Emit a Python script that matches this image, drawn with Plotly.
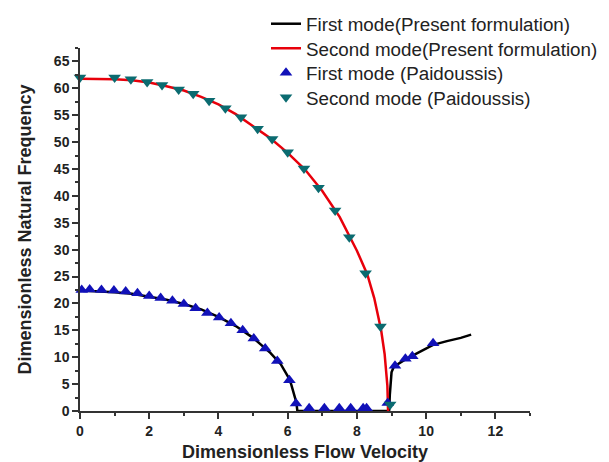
import plotly.graph_objects as go

# First mode, present formulation (black line)
mode1_x = [0, 0.5, 1.0, 1.5, 2.0, 2.5, 3.0, 3.5, 4.0, 4.5, 5.0, 5.5, 5.8, 6.0, 6.1, 6.2, 6.25, 6.28,
           7.0, 8.0, 8.93, 8.95, 8.97, 9.0, 9.05, 9.1, 9.4, 9.8, 10.2, 10.6, 11.0, 11.3]
mode1_y = [22.4, 22.3, 22.1, 21.8, 21.3, 20.7, 19.9, 18.9, 17.5, 15.8, 13.6, 10.8, 8.7, 6.5, 5.0, 3.0, 1.6, 0,
           0, 0, 0, 3.0, 5.8, 7.2, 8.0, 8.4, 9.6, 11.0, 12.3, 13.0, 13.6, 14.2]

# Second mode, present formulation (red line)
mode2_x = [0, 0.5, 1.0, 1.5, 2.0, 2.5, 3.0, 3.5, 4.0, 4.5, 5.0, 5.5, 6.0, 6.5, 7.0, 7.5, 8.0, 8.3, 8.5,
           8.7, 8.8, 8.85, 8.88, 8.9]
mode2_y = [61.8, 61.8, 61.7, 61.5, 61.1, 60.4, 59.6, 58.4, 57.0, 55.2, 53.0, 50.7, 48.0, 44.9, 40.9, 36.1,
           29.8, 25.4, 21.0, 15.0, 10.6, 7.5, 4.7, 0]

# First mode (Paidoussis) markers
p1_x = [0.05, 0.28, 0.62, 0.98, 1.32, 1.66, 2.0, 2.33, 2.67, 3.0, 3.34, 3.68, 4.02, 4.36, 4.7, 5.02, 5.35,
        5.7, 6.05, 6.24, 6.62, 7.06, 7.49, 7.82, 8.18, 8.28, 8.89, 9.1, 9.4, 9.6, 10.2]
p1_y = [22.5, 22.6, 22.5, 22.4, 22.2, 21.9, 21.4, 21.0, 20.5, 19.9, 19.1, 18.2, 17.4, 16.3, 15.0, 13.5, 11.6,
        9.3, 5.7, 1.4, 0.5, 0.5, 0.5, 0.5, 0.5, 0.5, 1.5, 8.4, 9.7, 10.2, 12.6]

# Second mode (Paidoussis) markers
p2_x = [0, 1.0, 1.47, 1.94, 2.37, 2.85, 3.27, 3.73, 4.2, 4.65, 5.13, 5.55, 6.0, 6.47, 6.89, 7.37, 7.78,
        8.25, 8.68, 8.96]
p2_y = [62.0, 62.0, 61.7, 61.2, 60.6, 59.8, 59.0, 57.7, 56.3, 54.6, 52.5, 50.6, 48.1, 45.1, 41.5, 37.3,
        32.3, 25.6, 15.7, 1.2]

x_ticks = [0, 2, 4, 6, 8, 10, 12]
y_ticks = [0, 5, 10, 15, 20, 25, 30, 35, 40, 45, 50, 55, 60, 65]

FONT = "Liberation Sans, Arial, sans-serif"
W, H = 609, 462

fig = go.Figure()
fig.add_trace(go.Scatter(x=mode1_x, y=mode1_y, mode="lines", name="First mode(Present formulation)",
                         line=dict(color="black", width=2.5), cliponaxis=False, legend="legend"))
fig.add_trace(go.Scatter(x=mode2_x, y=mode2_y, mode="lines", name="Second mode(Present formulation)",
                         line=dict(color="#e8000b", width=2.5), cliponaxis=False, legend="legend2"))
fig.add_trace(go.Scatter(x=p1_x, y=p1_y, mode="markers", name="First mode (Paidoussis)",
                         marker=dict(symbol="triangle-up", size=11, color="#1111b8"), cliponaxis=False,
                         legend="legend3"))
fig.add_trace(go.Scatter(x=p2_x, y=p2_y, mode="markers", name="Second mode (Paidoussis)",
                         marker=dict(symbol="triangle-down", size=11, color="#0b6b70"), cliponaxis=False,
                         legend="legend4"))

axis_common = dict(
    showline=True, linewidth=1.5, linecolor="#333333", showgrid=False, zeroline=False,
    ticks="outside", ticklen=6, tickwidth=1.5, tickcolor="#333333", automargin=False,
    tickfont=dict(family=FONT, size=14, color="#222222", weight="bold"),
)

def leg(row_center_px):
    return dict(x=258 / W, y=1 - row_center_px / H, xanchor="left", yanchor="middle",
                bgcolor="rgba(0,0,0,0)", borderwidth=0,
                font=dict(family=FONT, size=18.8, color="#222222"))

fig.update_layout(
    width=W, height=H, autosize=False,
    margin=dict(l=0, r=0, t=0, b=0, autoexpand=False),
    plot_bgcolor="white", paper_bgcolor="white",
    font=dict(family=FONT, color="#222222"),
    showlegend=True,
    legend=leg(16), legend2=leg(40.5), legend3=leg(65), legend4=leg(89.5),
    xaxis=dict(domain=[72 / W, 522 / W], range=[0, 13], tickvals=x_ticks,
               ticktext=[str(v) for v in x_ticks],
               minor=dict(dtick=1, tick0=0, ticks="outside", ticklen=3, tickwidth=1.5, tickcolor="#333333"),
               title=dict(text="Dimensionless Flow Velocity", standoff=8,
                          font=dict(family=FONT, size=18, color="#222222", weight="bold")),
               **axis_common),
    yaxis=dict(domain=[(H - 403) / H, (H - 40) / H], range=[0, 67.5], tickvals=y_ticks,
               ticktext=[str(v) for v in y_ticks],
               minor=dict(dtick=2.5, tick0=0, ticks="outside", ticklen=3, tickwidth=1.5, tickcolor="#333333"),
               title=dict(text="Dimensionless Natural Frequency", standoff=18,
                          font=dict(family=FONT, size=18, color="#222222", weight="bold")),
               **axis_common),
)

fig.write_html("out.html")
